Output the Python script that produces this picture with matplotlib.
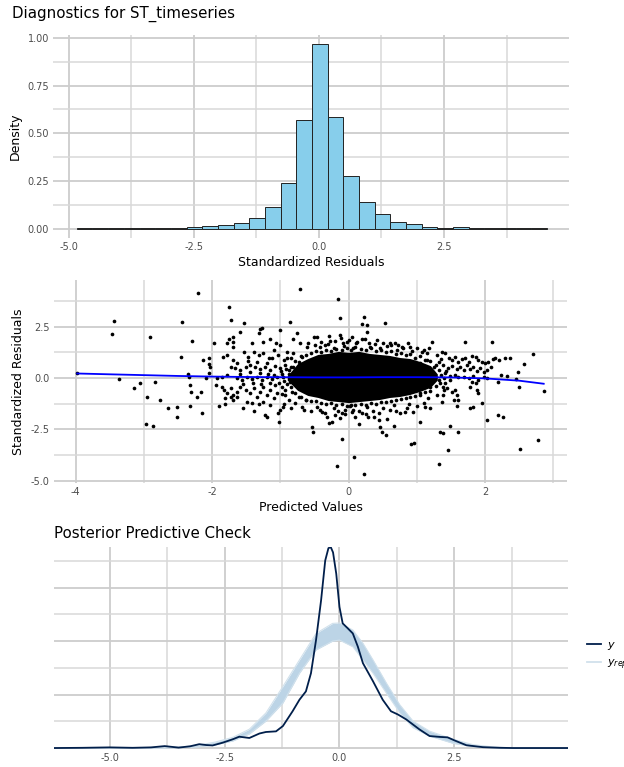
import numpy as np
import matplotlib.pyplot as plt
from matplotlib.lines import Line2D
from matplotlib.ticker import MultipleLocator, FormatStrFormatter, NullFormatter

plt.rcParams['font.family'] = ['DejaVu Sans']
plt.rcParams['axes.unicode_minus'] = False

# --- histogram of standardized residuals (30 bins, density) ---
hist_lo, hist_hi, n_bins = -4.835, 4.555, 30
hist_density = [0.001, 0.001, 0.001, 0.001, 0.002, 0.003, 0.003, 0.009, 0.016, 0.019,
                0.031, 0.054, 0.115, 0.241, 0.569, 0.969, 0.586, 0.276, 0.140, 0.077,
                0.035, 0.024, 0.010, 0.004, 0.007, 0.002, 0.001, 0.001, 0.001, 0.001]

# --- residuals vs predicted: individual points ---
resid_points = [
    (-3.98, 0.23), (-3.44, 2.78), (-3.47, 2.16), (-2.91, 2.00), (-2.44, 2.72), (-2.46, 1.02),
    (-3.37, -0.07), (-3.06, -0.24), (-3.15, -0.50), (-2.84, -0.18), (-2.95, -0.94), (-2.76, -1.06),
    (-2.65, -1.45), (-2.52, -1.43), (-2.52, -1.89), (-2.97, -2.23), (-2.87, -2.34),
    (-2.21, 4.15), (-0.72, 4.32), (-1.76, 3.45), (-1.73, 2.83), (-1.54, 2.68), (-0.855, 2.71),
    (-1.30, 2.41), (-1.27, 2.46), (-1.31, 2.18), (-1.01, 2.34), (-1.59, 2.26), (-2.30, 1.80),
    (-1.97, 1.71), (-1.79, 1.69), (-1.76, 1.89), (-1.70, 1.98), (-1.70, 1.76), (-1.69, 1.53),
    (-1.42, 1.72), (-1.25, 1.76), (-1.15, 1.89), (-1.06, 1.69), (-1.00, 1.61), (-0.82, 1.89),
    (-0.76, 2.21), (-0.71, 1.69), (-0.61, 1.53),
    (-2.13, 0.88), (-2.05, 0.99), (-2.04, 0.68), (-2.03, 0.52), (-2.04, 0.23), (-2.09, -0.02),
    (-2.36, 0.19), (-2.34, 0.06), (-2.33, -0.34), (-2.31, -0.68), (-2.23, -0.94), (-2.16, -0.68),
    (-2.33, -1.37), (-2.15, -1.69), (-1.90, -1.37), (-1.81, -1.27), (-1.55, -1.45), (-1.39, -1.61),
    (-1.23, -1.82), (-1.20, -1.92), (-1.02, -2.13), (-1.04, -1.72), (-1.00, -1.56), (-0.96, -1.40),
    (-0.54, -2.37), (-0.52, -2.62),
    (-1.84, 1.04), (-1.78, 1.12), (-1.69, 0.88), (-1.64, 0.72), (-1.54, 1.28), (-1.47, 1.04),
    (-1.39, 1.28), (-1.32, 1.12), (-1.25, 1.20), (-1.17, 0.96), (-1.10, 1.37), (-1.03, 1.12),
    (-0.95, 0.88), (-0.90, 1.28), (-0.85, 0.96), (-0.81, 1.20), (-0.73, 0.80), (-0.68, 1.04),
    (-1.73, 0.55), (-1.66, 0.47), (-1.59, 0.39), (-1.51, 0.52), (-1.44, 0.63), (-1.37, 0.55),
    (-1.30, 0.42), (-1.22, 0.52), (-1.15, 0.39), (-1.08, 0.59), (-1.00, 0.47), (-0.93, 0.63),
    (-0.88, 0.39), (-0.81, 0.52),
    (-1.93, -0.02), (-1.86, 0.06), (-1.78, 0.15), (-1.64, -0.02), (-1.56, -0.10), (-1.49, 0.06),
    (-1.42, -0.06), (-1.34, 0.03), (-1.27, -0.10), (-1.20, 0.06), (-1.12, -0.06), (-1.05, 0.06),
    (-1.94, -0.34), (-1.86, -0.42), (-1.83, -0.59), (-1.78, -0.75), (-1.73, -0.50), (-1.69, -0.83),
    (-1.64, -0.67), (-1.59, -0.42), (-1.51, -0.59), (-1.44, -0.75), (-1.39, -0.50), (-1.34, -0.91),
    (-1.30, -0.67), (-1.25, -0.42), (-1.20, -0.83), (-1.15, -0.59), (-1.10, -0.99), (-1.05, -0.75),
    (-0.98, -0.42), (-0.93, -0.83), (-0.88, -1.07), (-0.83, -0.67), (-0.78, -1.24), (-0.73, -0.91),
    (-0.68, -1.40), (-0.63, -1.07), (-1.69, -1.07), (-1.64, -0.91), (-1.81, -0.99), (-1.73, -0.94),
    (-1.49, -1.15), (-1.42, -1.24), (-1.32, -1.27), (-1.25, -1.15), (-1.15, -1.32), (-0.95, -1.27),
    (-0.85, -1.48),
    (-1.60, 0.20), (-1.45, 0.30), (-1.30, 0.22), (-1.18, 0.20), (-1.10, 0.15), (-1.55, -0.30),
    (-1.40, -0.25), (-1.28, -0.30), (-1.15, -0.25), (-1.08, -0.35), (-1.48, 0.85), (-1.35, 0.80),
    (-1.20, 0.75), (-1.12, 1.00),
    (-0.98, 0.20), (-0.95, -0.15), (-0.92, 0.45), (-0.90, -0.30), (-0.96, 0.05), (-1.02, -0.22),
    (-0.99, 0.32), (-0.93, -0.60), (-0.97, -0.80), (-0.91, 1.00), (-0.87, 0.20), (-0.86, -0.20),
    (-0.16, 3.85), (-0.13, 2.91), (0.23, 2.96), (0.20, 2.65), (0.27, 2.60), (0.27, 2.26),
    (0.54, 2.70), (1.22, 1.77), (0.415, 1.85), (0.61, 1.72), (0.68, 1.69), (0.87, 1.69),
    (-0.51, 2.02), (-0.46, 1.98), (-0.29, 2.05), (-0.28, 1.80), (-0.12, 2.10), (-0.11, 1.93),
    (-0.02, 1.77), (0.05, 2.02), (0.11, 1.69), (0.19, 1.89), (0.24, 1.89),
    (-0.42, 1.53), (-0.34, 1.61), (-0.22, 1.45), (-0.07, 1.56), (0.07, 1.45), (0.32, 1.53),
    (0.46, 1.45), (0.56, 1.56), (0.71, 1.37), (0.78, 1.53), (0.93, 1.33), (1.00, 1.45),
    (1.07, 1.28), (1.15, 1.20), (1.29, 1.12), (1.37, 1.28),
    (-0.85, 0.55), (-0.78, 0.85), (-0.70, 1.05), (-0.62, 1.10), (-0.55, 1.22), (-0.48, 1.30),
    (-0.40, 1.28), (-0.33, 1.38), (-0.26, 1.32), (-0.18, 1.42), (-0.10, 1.38), (-0.03, 1.45),
    (0.04, 1.35), (0.10, 1.50), (0.18, 1.40), (0.26, 1.38), (0.33, 1.45), (0.40, 1.30),
    (0.48, 1.35), (0.55, 1.25), (0.62, 1.30), (0.70, 1.18), (0.77, 1.20), (0.84, 1.10),
    (0.90, 1.15), (0.98, 1.00), (1.05, 1.05), (1.12, 0.90), (1.20, 0.85), (1.28, 0.65),
    (-0.60, 1.70), (-0.50, 1.62), (-0.40, 1.75), (-0.30, 1.68), (-0.20, 1.80), (-0.08, 1.72),
    (0.00, 1.85), (0.12, 1.78), (0.30, 1.72), (0.38, 1.65), (0.50, 1.70), (0.62, 1.60),
    (0.72, 1.62), (0.80, 1.45), (0.90, 1.52), (1.10, 1.35), (1.18, 1.45),
    (-0.39, -1.64), (-0.32, -1.89), (-0.29, -2.18), (-0.24, -2.13), (-0.20, -1.81), (-0.13, -1.97),
    (-0.10, -1.72), (-0.05, -1.56), (0.07, -1.56), (0.10, -1.89), (0.15, -2.24), (0.19, -1.72),
    (0.29, -1.92), (0.37, -1.89), (0.44, -2.05), (0.46, -2.37), (0.49, -2.62), (0.55, -2.78),
    (0.56, -2.02), (0.67, -2.33), (0.76, -1.72), (0.83, -1.64), (0.95, -1.64), (1.04, -2.13),
    (1.12, -1.40), (1.20, -1.48), (1.34, -2.62),
    (-0.46, -1.40), (-0.22, -1.48), (0.02, -1.37), (0.27, -1.43), (0.51, -1.48), (0.66, -1.32),
    (0.88, -1.27),
    (-0.85, -0.45), (-0.78, -0.75), (-0.70, -0.95), (-0.62, -1.05), (-0.55, -1.12), (-0.48, -1.10),
    (-0.40, -1.20), (-0.33, -1.25), (-0.26, -1.22), (-0.18, -1.30), (-0.10, -1.28), (-0.03, -1.35),
    (0.04, -1.30), (0.10, -1.32), (0.18, -1.28), (0.26, -1.30), (0.33, -1.22), (0.40, -1.25),
    (0.48, -1.18), (0.55, -1.15), (0.62, -1.10), (0.70, -1.08), (0.77, -1.02), (0.84, -0.98),
    (0.90, -0.95), (0.98, -0.88), (1.05, -0.82), (1.12, -0.70), (1.20, -0.62), (1.28, -0.40),
    (-0.65, -1.55), (-0.55, -1.62), (-0.42, -1.55), (-0.35, -1.70), (-0.15, -1.62), (-0.05, -1.75),
    (0.05, -1.68), (0.15, -1.60), (0.25, -1.75), (0.35, -1.62), (0.45, -1.70), (0.60, -1.55),
    (0.70, -1.60), (0.85, -1.45), (1.00, -1.35), (1.10, -1.20),
    (-0.10, -2.96), (0.08, -3.84), (-0.17, -4.29), (0.22, -4.68), (0.92, -3.22), (0.96, -3.19),
    (1.33, -4.18),
    (1.05, 0.71), (1.15, 0.88), (1.25, 0.55), (1.32, 0.80), (1.10, -0.10), (1.20, -0.42),
    (1.27, 0.06), (1.34, -0.26), (1.05, -0.75), (1.17, -0.99), (1.29, -0.83), (1.37, -1.15),
    (1.33, 0.40), (1.36, 0.15), (1.40, 0.00), (1.38, -0.45), (1.32, -0.10), (1.43, 0.35),
    (1.35, 0.95), (1.40, -0.60),
    (1.71, 1.74), (2.10, 1.77), (2.70, 1.19), (2.57, 0.67), (2.48, 0.29), (2.45, -0.07),
    (2.50, -0.46), (2.86, -0.63), (2.37, 0.96), (2.29, 0.96), (2.20, 0.86), (2.14, 0.99),
    (2.11, 0.93), (2.23, 0.15), (2.32, 0.11), (2.19, -0.20),
    (1.42, 1.20), (1.47, 0.96), (1.51, 0.88), (1.56, 1.01), (1.61, 0.80), (1.66, 0.91),
    (1.71, 0.96), (1.76, 0.80), (1.81, 1.07), (1.86, 1.01), (1.90, 0.88), (1.95, 0.80),
    (2.00, 0.75), (2.05, 0.80), (1.39, 0.63), (1.45, 0.47), (1.51, 0.59), (1.59, 0.42),
    (1.64, 0.52), (1.69, 0.39), (1.73, 0.63), (1.78, 0.42), (1.83, 0.55), (1.88, 0.36),
    (1.93, 0.47), (1.98, 0.31), (2.03, 0.39), (2.08, 0.52), (1.42, 0.23), (1.49, 0.10),
    (1.56, 0.15), (1.61, 0.03), (1.69, 0.06), (1.76, -0.02), (1.83, 0.10), (1.90, -0.10),
    (1.98, 0.06), (2.03, -0.02), (1.42, -0.26), (1.44, -0.50), (1.49, -0.10), (1.51, -0.67),
    (1.56, -0.59), (1.59, -0.83), (1.54, -1.07), (1.59, -1.37), (1.61, -1.07), (1.39, -0.83),
    (1.78, -0.42), (1.81, -0.18), (1.86, -0.26), (1.88, -0.59), (1.90, -0.75), (1.95, -1.20),
    (1.78, -1.48), (1.83, -1.40), (2.03, -2.05), (2.19, -1.81), (2.26, -1.89), (1.49, -2.34),
    (1.61, -2.62), (1.39, -2.67), (1.46, -3.51), (2.51, -3.45), (2.78, -3.02),
]

# solid, fully overplotted core of the point cloud (envelope)
core_x = [-0.90, -0.75, -0.60, -0.45, -0.30, -0.15, 0.00, 0.15, 0.30, 0.45, 0.60, 0.75, 0.90, 1.05, 1.20, 1.30]
core_hi = [0.10, 0.70, 0.95, 1.15, 1.20, 1.30, 1.25, 1.30, 1.20, 1.15, 1.10, 1.00, 0.95, 0.80, 0.60, 0.20]
core_lo = [-0.10, -0.60, -0.85, -0.95, -1.10, -1.15, -1.20, -1.15, -1.10, -1.05, -0.95, -0.90, -0.80, -0.65, -0.45, -0.10]

# loess smooth
smooth_x = [-3.98, -3.5, -3.0, -2.5, -2.0, -1.5, -1.0, -0.5, 0.0, 0.5, 1.0, 1.5, 2.0, 2.5, 2.86]
smooth_y = [0.22, 0.18, 0.14, 0.10, 0.07, 0.05, 0.04, 0.03, 0.03, 0.04, 0.04, 0.03, -0.02, -0.13, -0.28]

# --- posterior predictive check ---
y_dens_x = [-6.2, -5.6, -5.0, -4.5, -4.1, -3.8, -3.5, -3.25, -3.05, -2.9, -2.76, -2.54, -2.32,
            -2.18, -1.96, -1.74, -1.60, -1.38, -1.23, -1.02, -0.87, -0.73, -0.62, -0.51, -0.40,
            -0.31, -0.24, -0.19, -0.14, -0.07, 0.0, 0.07, 0.18, 0.29, 0.40, 0.51, 0.73, 0.94,
            1.12, 1.27, 1.45, 1.74, 1.96, 2.18, 2.35, 2.51, 2.76, 3.12, 3.5, 3.78, 4.3, 4.97]
y_dens = [0.0, 0.001, 0.003, 0.001, 0.003, 0.009, 0.002, 0.008, 0.018, 0.014, 0.012, 0.025, 0.041,
          0.053, 0.047, 0.068, 0.075, 0.078, 0.103, 0.172, 0.226, 0.265, 0.350, 0.505, 0.691,
          0.877, 0.935, 0.940, 0.915, 0.815, 0.660, 0.583, 0.560, 0.536, 0.474, 0.397, 0.312, 0.226,
          0.172, 0.157, 0.134, 0.087, 0.056, 0.052, 0.050, 0.035, 0.013, 0.004, 0.001, 0.0, 0.0, 0.0]

rep_x = [-6.2, -4.0, -3.4, -3.05, -2.7, -2.32, -1.96, -1.60, -1.23, -0.87, -0.51, -0.15, 0.0,
         0.29, 0.51, 0.73, 1.02, 1.31, 1.60, 1.96, 2.47, 2.9, 3.3, 3.7, 4.97]
rep_hi = [0.0, 0.002, 0.006, 0.014, 0.028, 0.050, 0.088, 0.164, 0.288, 0.412, 0.536, 0.583, 0.585,
          0.552, 0.490, 0.412, 0.304, 0.203, 0.126, 0.079, 0.041, 0.016, 0.006, 0.001, 0.0]
rep_lo = [0.0, 0.0, 0.002, 0.006, 0.015, 0.033, 0.066, 0.126, 0.211, 0.350, 0.459, 0.500, 0.505,
          0.474, 0.412, 0.350, 0.257, 0.165, 0.095, 0.056, 0.022, 0.007, 0.002, 0.0, 0.0]

GRID_MAJ = '#cdcdcd'
GRID_MIN = '#d8d8d8'
TICK_COL = '#4d4d4d'


def style(ax, xmaj, ymaj, xfmt, yfmt):
    for s in ax.spines.values():
        s.set_visible(False)
    ax.xaxis.set_major_locator(MultipleLocator(xmaj))
    ax.xaxis.set_minor_locator(MultipleLocator(xmaj / 2))
    ax.yaxis.set_major_locator(MultipleLocator(ymaj))
    ax.yaxis.set_minor_locator(MultipleLocator(ymaj / 2))
    ax.xaxis.set_major_formatter(FormatStrFormatter(xfmt))
    if yfmt:
        ax.yaxis.set_major_formatter(FormatStrFormatter(yfmt))
    else:
        ax.yaxis.set_major_formatter(NullFormatter())
    ax.grid(which='major', color=GRID_MAJ, lw=1.3)
    ax.grid(which='minor', color=GRID_MIN, lw=1.1)
    ax.tick_params(which='both', length=0, labelsize=7, labelcolor=TICK_COL, pad=3)
    ax.set_axisbelow(True)


fig = plt.figure(figsize=(6.24, 7.67), dpi=100)

# top: histogram
ax1 = fig.add_axes([0.0854, 0.6898, 0.826, 0.2652])
edges = np.linspace(hist_lo, hist_hi, n_bins + 1)
ax1.bar(edges[:-1], hist_density, width=np.diff(edges), align='edge',
        color='#87ceeb', edgecolor='#222222', linewidth=0.7)
ax1.set_xlim(-5.305, 4.99)
ax1.set_ylim(-0.0485, 1.0175)
style(ax1, 2.5, 0.25, '%.1f', '%.2f')
ax1.set_xlabel('Standardized Residuals', fontsize=9, labelpad=3)
ax1.set_ylabel('Density', fontsize=9, labelpad=4)

# middle: residuals vs predicted
ax2 = fig.add_axes([0.0865, 0.3703, 0.822, 0.2649])
pts = np.array(resid_points)
ax2.fill_between(core_x, core_lo, core_hi, color='black', lw=0, zorder=2)
ax2.scatter(pts[:, 0], pts[:, 1], s=7, color='black', lw=0, zorder=3)
ax2.plot(smooth_x, smooth_y, color='#0000ff', lw=1.3, zorder=4)
ax2.set_xlim(-4.32, 3.2)
ax2.set_ylim(-5.12, 4.79)
style(ax2, 2, 2.5, '%d', '%.1f')
ax2.set_xlabel('Predicted Values', fontsize=9, labelpad=3)
ax2.set_ylabel('Standardized Residuals', fontsize=9, labelpad=4)

# bottom: posterior predictive check
ax3 = fig.add_axes([0.0865, 0.0239, 0.8237, 0.2634])
ax3.fill_between(rep_x, rep_lo, rep_hi, color='#bcd4e6', lw=0, zorder=2)
ax3.plot(rep_x, rep_hi, color='#d1e1ec', lw=0.8, zorder=2)
ax3.plot(rep_x, rep_lo, color='#d1e1ec', lw=0.8, zorder=2)
ax3.plot(y_dens_x, y_dens, color='#011f4b', lw=1.3, zorder=3)
ax3.set_xlim(-6.21, 4.97)
ax3.set_ylim(-0.003, 0.942)
style(ax3, 2.5, 0.25, '%.1f', None)
ax3.set_title('Posterior Predictive Check', loc='left', fontsize=10.8, pad=6)

handles = [Line2D([], [], color='#011f4b', lw=1.3), Line2D([], [], color='#d1e1ec', lw=1.3)]
ax3.legend(handles, ['$y$', '$y_{rep}$'], loc='center left', bbox_to_anchor=(1.037, 0.46),
           frameon=False, fontsize=8, handlelength=1.3, handletextpad=0.5,
           borderpad=0, borderaxespad=0, labelspacing=0.5)

fig.text(12 / 624, 1 - 14 / 767, 'Diagnostics for ST_timeseries', fontsize=10.8, va='center', ha='left')

fig.savefig('out.png', dpi=100)
